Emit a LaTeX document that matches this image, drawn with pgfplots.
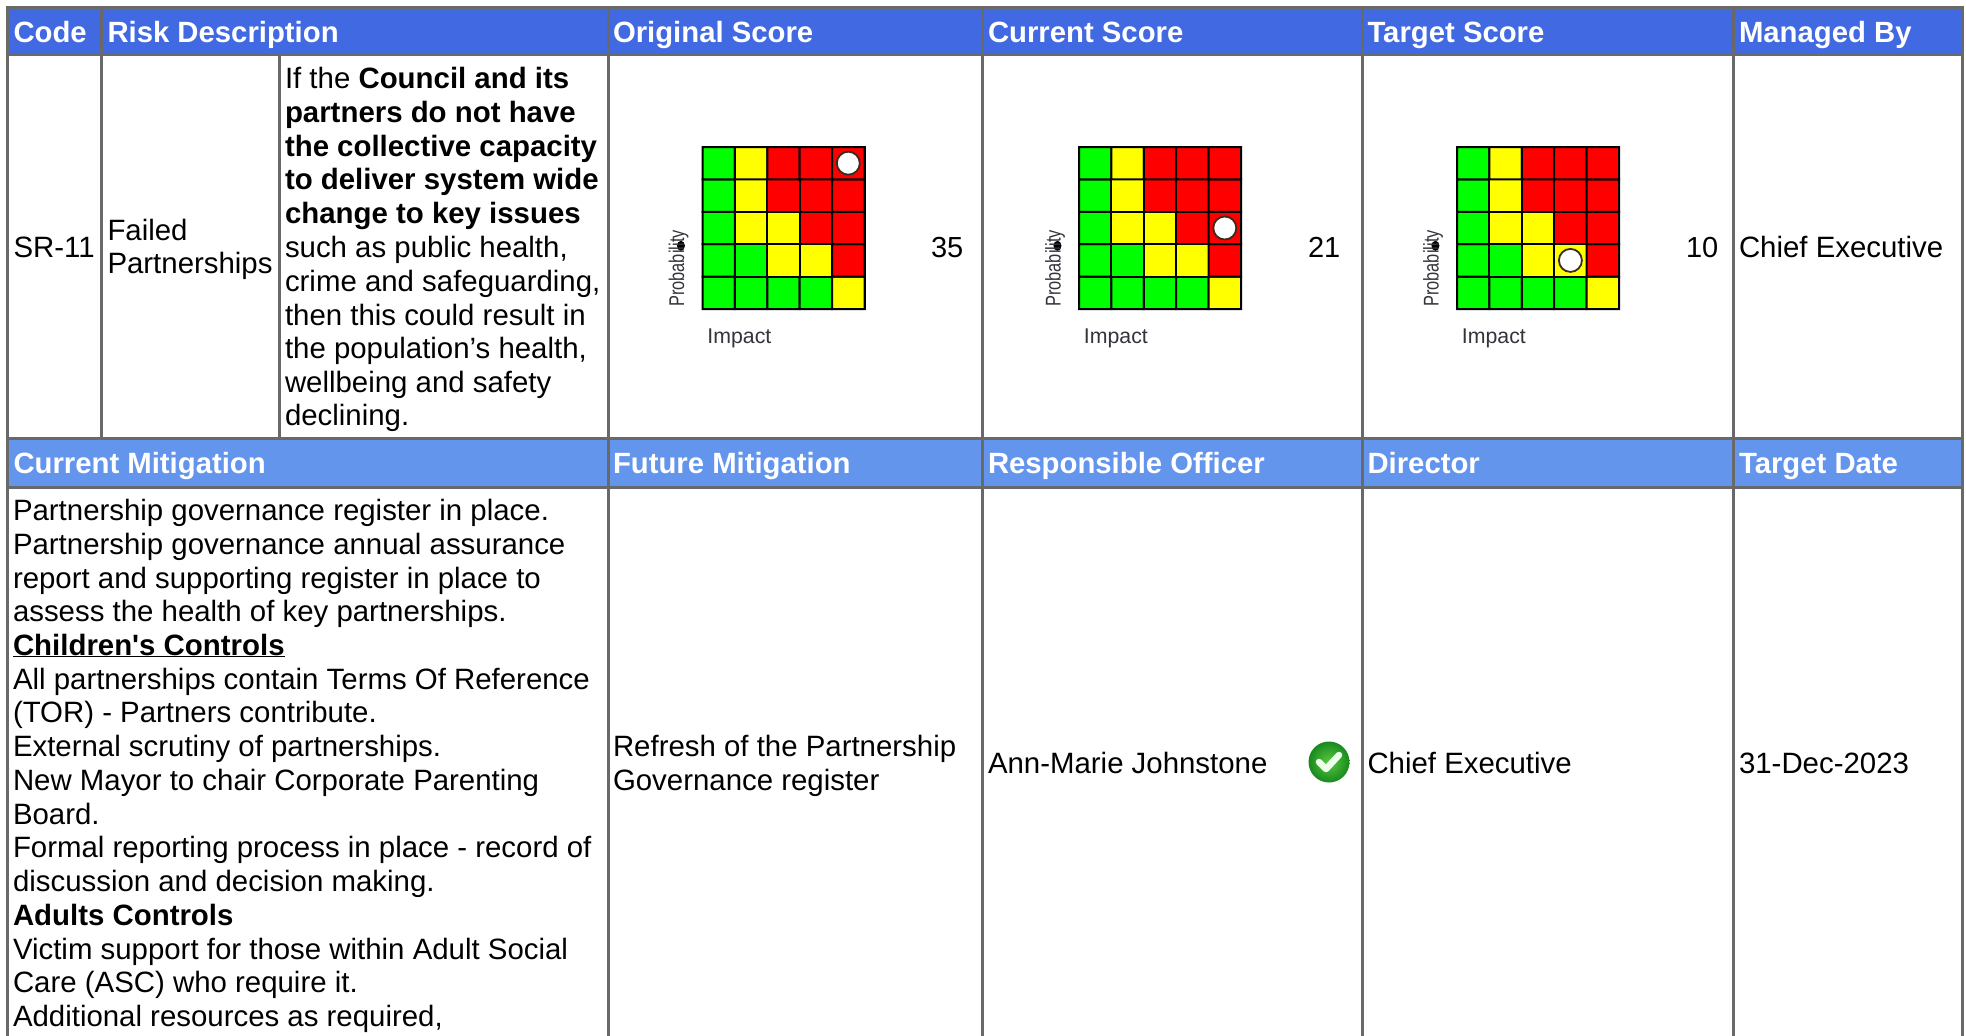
\documentclass[border=0pt]{standalone}
\usepackage{pgfplots}
\usepackage{pgfplotstable}
\usepackage{fontspec}
\setmainfont{Liberation Sans}[Ligatures=TeXOff]
\pgfplotsset{compat=1.18}
\definecolor{hdrA}{HTML}{4169E1}
\definecolor{hdrB}{HTML}{6495ED}
\definecolor{rule}{HTML}{696969}
\definecolor{lab}{HTML}{33343C}
\definecolor{ring}{HTML}{3A2A20}
\definecolor{tickin}{HTML}{5CC840}
\definecolor{tickout}{HTML}{178A1E}
\pgfplotstableread{
x y c
1 1 0
2 1 0
3 1 0
4 1 0
5 1 1
1 2 0
2 2 0
3 2 1
4 2 1
5 2 2
1 3 0
2 3 1
3 3 1
4 3 2
5 3 2
1 4 0
2 4 1
3 4 2
4 4 2
5 4 2
1 5 0
2 5 1
3 5 2
4 5 2
5 5 2
}\ragtable
\newcommand{\TX}[3]{\node[anchor=base west,inner sep=0pt,outer sep=0pt] at (#1pt,-#2pt) {\fontsize{29.4}{33}\selectfont #3};}
\newcommand{\NM}[3]{\node[anchor=base west,inner sep=0pt,outer sep=0pt] at (#1pt,-#2pt) {\fontsize{29}{33}\selectfont #3};}
\newcommand{\HH}[3]{\node[anchor=base west,inner sep=0pt,outer sep=0pt,text=white] at (#1pt,-#2pt) {\fontsize{29.3}{33}\selectfont\bfseries #3};}
\newcommand{\riskaxis}[3]{%
\begin{axis}[at={(#1pt,-309pt)},anchor=south west,scale only axis,width=162pt,height=162pt,
  xmin=0.5,xmax=5.5,ymin=0.5,ymax=5.5,xtick=\empty,ytick=\empty,clip=false,
  axis line style={black,line width=2pt},
  colormap={rag}{color=(green) color=(yellow) color=(red)},point meta min=0,point meta max=2,
  xlabel={\textcolor{lab}{Impact}},ylabel={\textcolor{lab}{\scalebox{0.77}[1]{Probability}}},
  label style={font=\fontsize{21.3}{24}\selectfont},
  xlabel style={at={(axis description cs:0.228,-0.18)},anchor=center},
  ylabel style={at={(axis description cs:-0.148,0.25)},anchor=center}]
\addplot[matrix plot*,mesh/cols=5,point meta=explicit,draw=black,line width=2pt] table[x=x,y=y,meta=c]{\ragtable};
\addplot[only marks,mark=*,mark size=11.5pt,mark options={fill=white,draw=ring,line width=1.8pt}] coordinates {(#2,#3)};
\fill[black] (axis description cs:-0.133,0.39) ellipse (4pt and 5pt);
\end{axis}}
\begin{document}
\begin{tikzpicture}
\path[use as bounding box,fill=white] (0pt,0pt) rectangle (1966pt,-1036pt);
% header bands
\fill[hdrA] (8pt,-8pt) rectangle (1962pt,-54pt);
\fill[hdrB] (8pt,-438pt) rectangle (1962pt,-487pt);
% rules
\begin{scope}[draw=rule,line width=3pt]
\draw (6pt,-7.5pt) -- (1963pt,-7.5pt);
\draw (6pt,-54.5pt) -- (1963pt,-54.5pt);
\draw (6pt,-438pt) -- (1963pt,-438pt);
\draw (6pt,-487pt) -- (1963pt,-487pt);
\draw (7.5pt,-6pt) -- (7.5pt,-1036pt);
\draw (101pt,-6pt) -- (101pt,-438pt);
\draw (279pt,-54pt) -- (279pt,-438pt);
\draw (608pt,-6pt) -- (608pt,-1036pt);
\draw (982pt,-6pt) -- (982pt,-1036pt);
\draw (1362pt,-6pt) -- (1362pt,-1036pt);
\draw (1733pt,-6pt) -- (1733pt,-1036pt);
\draw (1962pt,-6pt) -- (1962pt,-1036pt);
\end{scope}
% header text
\HH{13.5}{42}{Code}\HH{107.5}{42}{Risk Description}\HH{613}{42}{Original Score}\HH{988}{42}{Current Score}\HH{1367.5}{42}{Target Score}\HH{1739}{42}{Managed By}
\HH{13.5}{473}{Current Mitigation}\HH{613}{473}{Future Mitigation}\HH{988}{473}{Responsible Officer}\HH{1367.5}{473}{Director}\HH{1739}{473}{Target Date}
% first row
\TX{13.5}{257}{SR-11}
\TX{107.5}{240}{Failed}
\TX{107.5}{273}{Partnerships}
\TX{285}{88}{If the \textbf{Council and its}}
\TX{285}{122}{\textbf{partners do not have}}
\TX{285}{156}{\textbf{the collective capacity}}
\TX{285}{189}{\textbf{to deliver system wide}}
\TX{285}{223}{\textbf{change to key issues}}
\TX{285}{291}{crime and safeguarding,}
\TX{285}{257}{such as public health,}
\TX{285}{325}{then this could result in}
\TX{285}{358}{the population’s health,}
\TX{285}{392}{wellbeing and safety}
\TX{285}{425}{declining.}
\NM{931}{257}{35}\NM{1308}{257}{21}\NM{1686}{257}{10}
\TX{1739}{257}{Chief Executive}
% second row
\TX{13}{520}{Partnership governance register in place.}
\TX{13}{554}{Partnership governance annual assurance}
\TX{13}{588}{report and supporting register in place to}
\TX{13}{621}{assess the health of key partnerships.}
\TX{13}{655}{\textbf{\underline{Children's Controls}}}
\TX{13}{689}{All partnerships contain Terms Of Reference}
\TX{13}{722}{(TOR) - Partners contribute.}
\TX{13}{756}{External scrutiny of partnerships.}
\TX{13}{790}{New Mayor to chair Corporate Parenting}
\TX{13}{824}{Board.}
\TX{13}{857}{Formal reporting process in place - record of}
\TX{13}{891}{discussion and decision making.}
\TX{13}{925}{\textbf{Adults Controls}}
\TX{13}{959}{Victim support for those within Adult Social}
\TX{13}{992}{Care (ASC) who require it.}
\TX{13}{1026}{Additional resources as required,}
\TX{613}{756}{Refresh of the Partnership}
\TX{613}{790}{Governance register}
\TX{988}{773}{Ann-Marie Johnstone}
\TX{1367.5}{773}{Chief Executive}
\TX{1739}{773}{31-Dec-2023}
% tick icon
\shade[inner color=tickin,outer color=tickout] (1329pt,-762pt) circle (20.5pt);
\draw[white!92!green,line width=6.5pt,line cap=round,line join=round] (1319pt,-762pt) -- (1326pt,-769pt) -- (1339pt,-755pt);
% risk matrices
\riskaxis{702.5}{5}{5}
\riskaxis{1079}{5}{3}
\riskaxis{1457}{4}{2}
\end{tikzpicture}
\end{document}
